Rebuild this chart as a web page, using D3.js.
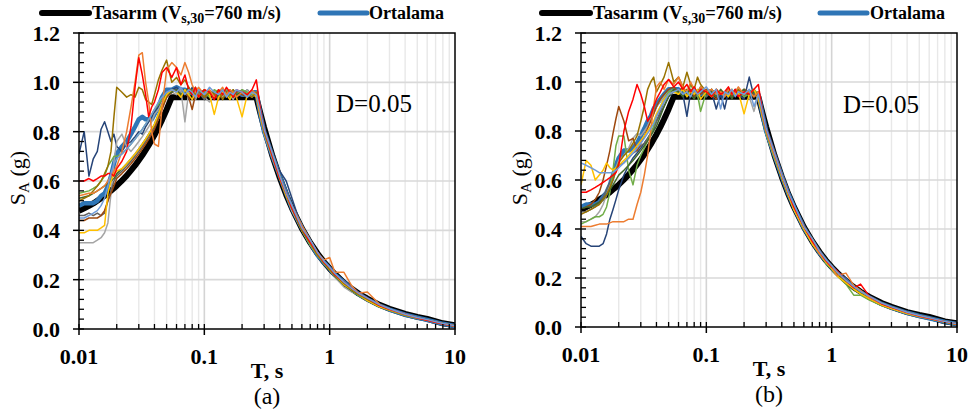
<!DOCTYPE html>
<html><head><meta charset="utf-8">
<script src="https://cdn.jsdelivr.net/npm/d3@7"></script>
<style>body{margin:0;background:#fff}svg{display:block}</style>
</head><body>
<svg id="c" width="976" height="419"></svg>
<script>
// ---------------- DATA ----------------
const periods = [0.01,0.011,0.012,0.013,0.014,0.015,0.016,0.017,0.018,0.019,
  0.02,0.022,0.024,0.026,0.028, 0.03,0.032,0.034,0.036,0.038, 0.04,0.043,0.046,0.05,0.055,
  0.06,0.065,0.07,0.075,0.08, 0.085,0.09,0.1,0.11,0.12, 0.13,0.14,0.15,0.16,0.17, 0.18,0.2,0.22,0.24,0.26,
  0.28,0.3,0.35,0.4,0.45, 0.5,0.6,0.7,0.8,0.9, 1.0,1.1,1.3,1.5,1.7, 2,2.5,3,4,5, 6,8,10];
const xTickLabels = ["0.01","0.1","1","10"];
const xTickValues = [0.01,0.1,1,10];
const yTickLabels = ["0.0","0.2","0.4","0.6","0.8","1.0","1.2"];
const yTickValues = [0,0.2,0.4,0.6,0.8,1.0,1.2];
const seriesNames = ["Tasarım (Vs,30=760 m/s)","Ortalama"];
const panelLabels = ["(a)","(b)"];
const dampingText = "D=0.05";

const design = [0.479,0.489,0.499,0.509,0.520,0.530,0.540,0.550,0.561,0.571,
  0.581,0.602,0.622,0.643,0.663, 0.684,0.704,0.725,0.745,0.766, 0.786,0.817,0.848,0.889,0.940,
  0.94,0.94,0.94,0.94,0.94, 0.94,0.94,0.94,0.94,0.94, 0.94,0.94,0.94,0.94,0.94, 0.94,0.94,0.94,0.94,0.94,
  0.875,0.817,0.700,0.613,0.544, 0.490,0.408,0.350,0.306,0.272, 0.245,0.223,0.188,0.163,0.144, 0.123,0.098,0.082,0.061,0.049, 0.041,0.023,0.015];

// Panel (a) records
const a_navy = [0.71,0.80,0.62,0.69,0.72,0.81,0.84,0.80,0.76,0.79, 0.74,0.72,0.75,0.76,0.78, 0.80,0.79,0.82,0.84,0.86, 0.88,0.90,0.93,0.95,0.97,
  0.98,0.96,0.97,0.95,0.98, 0.96,0.94,0.97,0.95,0.96, 0.93,0.97,0.95,0.96,0.94, 0.96,0.95,0.97,0.95,0.94,
  0.88,0.80,0.69,0.64,0.60, 0.53,0.41,0.35,0.30,0.27, 0.245,0.22,0.185,0.16,0.14, 0.12,0.095,0.08,0.058,0.046, 0.038,0.021,0.012];
const a_red = [0.60,0.60,0.61,0.60,0.61,0.62,0.62,0.63,0.63,0.62, 0.65,0.68,0.72,0.82,0.98, 1.10,1.03,0.95,0.86,0.90, 0.92,0.97,1.04,1.06,1.02,
  1.06,0.99,1.03,0.97,0.95, 0.98,0.94,0.97,0.96,0.93, 0.97,0.95,0.98,0.96,0.94, 0.97,0.96,0.95,0.97,1.01,
  0.89,0.81,0.70,0.61,0.55, 0.49,0.41,0.35,0.31,0.27, 0.25,0.22,0.19,0.165,0.145, 0.125,0.095,0.08,0.06,0.045, 0.035,0.02,0.012];
const a_olive = [0.52,0.53,0.54,0.56,0.58,0.60,0.63,0.66,0.72,0.86, 0.98,0.96,0.94,0.95,0.94, 0.98,0.97,0.93,0.92,0.91, 0.95,1.01,1.05,1.09,1.00,
  1.02,0.99,1.01,0.98,0.96, 0.95,0.97,0.94,0.96,0.95, 0.97,0.93,0.96,0.95,0.97, 0.94,0.96,0.95,0.94,0.96,
  0.88,0.80,0.70,0.62,0.55, 0.49,0.40,0.35,0.30,0.27, 0.24,0.22,0.185,0.16,0.14, 0.12,0.095,0.08,0.058,0.046, 0.037,0.021,0.013];
const a_orange = [0.54,0.545,0.55,0.55,0.56,0.57,0.58,0.60,0.62,0.64, 0.66,0.72,0.80,0.90,1.00, 1.11,1.12,1.00,0.92,0.80, 0.75,0.74,0.90,1.05,1.08,
  1.06,1.03,1.08,1.04,0.99, 0.96,0.98,0.95,0.97,0.94, 0.96,0.98,0.95,0.97,0.96, 0.94,0.96,0.95,0.97,0.95,
  0.87,0.81,0.71,0.62,0.55, 0.50,0.42,0.36,0.31,0.28, 0.29,0.23,0.23,0.175,0.145, 0.15,0.10,0.08,0.06,0.046, 0.036,0.021,0.012];
const a_gray = [0.35,0.35,0.35,0.35,0.36,0.37,0.39,0.43,0.55,0.68, 0.76,0.79,0.74,0.72,0.74, 0.76,0.78,0.80,0.82,0.84, 0.87,0.89,0.92,0.94,0.96,
  0.95,0.97,0.84,0.96,0.95, 0.93,0.96,0.94,0.92,0.95, 0.97,0.94,0.96,0.95,0.93, 0.96,0.95,0.97,0.94,0.96,
  0.86,0.79,0.69,0.61,0.54, 0.48,0.40,0.34,0.30,0.27, 0.24,0.21,0.17,0.15,0.14, 0.12,0.093,0.078,0.058,0.045, 0.036,0.021,0.012];
const a_dgray = [0.46,0.46,0.47,0.46,0.47,0.46,0.47,0.52,0.56,0.60, 0.62,0.64,0.66,0.68,0.70, 0.72,0.74,0.76,0.78,0.80, 0.82,0.86,0.90,0.94,0.96,
  0.97,0.95,0.96,0.94,0.97, 0.95,0.96,0.93,0.96,0.95, 0.94,0.97,0.95,0.96,0.94, 0.95,0.97,0.95,0.94,0.96,
  0.87,0.80,0.70,0.61,0.54, 0.49,0.41,0.35,0.31,0.27, 0.245,0.22,0.19,0.16,0.145, 0.12,0.096,0.08,0.06,0.047, 0.038,0.022,0.013];
const a_yellow = [0.39,0.39,0.40,0.40,0.40,0.41,0.42,0.55,0.60,0.63, 0.64,0.65,0.67,0.69,0.71, 0.73,0.75,0.77,0.79,0.81, 0.83,0.87,0.91,0.95,0.97,
  0.96,0.94,0.97,0.95,0.93, 0.96,0.94,0.97,0.95,0.87, 0.94,0.96,0.95,0.93,0.96, 0.94,0.86,0.95,0.96,0.94,
  0.86,0.80,0.70,0.61,0.54, 0.49,0.41,0.35,0.30,0.27, 0.24,0.22,0.18,0.16,0.14, 0.115,0.09,0.077,0.057,0.045, 0.036,0.021,0.012];
const a_brown = [0.44,0.44,0.45,0.45,0.45,0.46,0.48,0.52,0.55,0.58, 0.61,0.63,0.65,0.67,0.69, 0.71,0.73,0.75,0.77,0.79, 0.81,0.85,0.89,0.94,0.96,
  0.97,0.95,0.96,0.94,0.89, 0.95,0.97,0.94,0.96,0.95, 0.93,0.96,0.95,0.97,0.94, 0.96,0.95,0.94,0.96,0.95,
  0.87,0.80,0.70,0.62,0.55, 0.49,0.41,0.35,0.31,0.27, 0.245,0.22,0.19,0.165,0.145, 0.12,0.096,0.08,0.059,0.046, 0.037,0.022,0.013];
const a_lblue = [0.45,0.45,0.46,0.47,0.48,0.50,0.53,0.58,0.63,0.67, 0.69,0.71,0.73,0.75,0.77, 0.79,0.81,0.83,0.85,0.87, 0.89,0.92,0.94,0.96,0.97,
  0.96,0.98,0.95,0.97,0.96, 0.94,0.97,0.95,0.98,0.96, 0.95,0.97,0.94,0.96,0.95, 0.97,0.96,0.94,0.96,0.95,
  0.88,0.81,0.71,0.62,0.55, 0.50,0.41,0.36,0.31,0.275, 0.25,0.225,0.19,0.165,0.145, 0.125,0.098,0.082,0.06,0.047, 0.038,0.022,0.013];
const a_green = [0.55,0.555,0.56,0.57,0.58,0.60,0.62,0.66,0.68,0.70, 0.70,0.71,0.73,0.75,0.77, 0.79,0.81,0.83,0.85,0.87, 0.89,0.91,0.93,0.95,0.97,
  0.96,0.95,0.97,0.95,0.96, 0.98,0.95,0.96,0.94,0.97, 0.96,0.95,0.97,0.94,0.96, 0.95,0.97,0.96,0.95,0.96,
  0.87,0.80,0.70,0.61,0.54, 0.49,0.40,0.34,0.30,0.265, 0.24,0.215,0.18,0.155,0.135, 0.115,0.09,0.076,0.056,0.044, 0.036,0.02,0.012];
const a_dgreen = [0.53,0.535,0.54,0.55,0.56,0.57,0.58,0.59,0.60,0.61, 0.63,0.65,0.67,0.69,0.71, 0.73,0.75,0.77,0.79,0.81, 0.83,0.87,0.91,0.95,0.96,
  0.97,0.95,0.96,0.98,0.95, 0.96,0.94,0.97,0.95,0.96, 0.94,0.97,0.96,0.95,0.97, 0.95,0.96,0.94,0.96,0.95,
  0.87,0.80,0.70,0.61,0.54, 0.49,0.40,0.35,0.30,0.27, 0.24,0.215,0.18,0.155,0.14, 0.115,0.09,0.077,0.057,0.045, 0.036,0.021,0.012];
const meanA = [0.50,0.51,0.51,0.51,0.52,0.54,0.55,0.58,0.62,0.67, 0.71,0.74,0.76,0.79,0.82, 0.85,0.86,0.85,0.85,0.85, 0.87,0.90,0.94,0.97,0.97,
  0.98,0.97,0.97,0.96,0.96, 0.96,0.96,0.96,0.96,0.95, 0.96,0.96,0.96,0.96,0.95, 0.96,0.95,0.95,0.96,0.96,
  0.87,0.80,0.70,0.62,0.55, 0.49,0.41,0.35,0.30,0.27, 0.245,0.22,0.19,0.162,0.142, 0.12,0.095,0.079,0.058,0.046, 0.037,0.021,0.012];

// Panel (b) records
const b_navy = [0.37,0.34,0.33,0.33,0.33,0.34,0.38,0.44,0.48,0.52, 0.56,0.62,0.66,0.69,0.71, 0.73,0.75,0.77,0.79,0.81, 0.84,0.87,0.90,0.94,0.96,
  0.97,0.95,0.86,0.96,0.98, 0.95,0.97,0.94,0.96,0.89, 0.95,0.89,0.96,0.94,0.97, 0.95,0.93,1.02,0.94,0.95,
  0.87,0.80,0.70,0.61,0.54, 0.49,0.41,0.35,0.30,0.27, 0.245,0.22,0.185,0.16,0.14, 0.12,0.095,0.08,0.059,0.046, 0.037,0.021,0.012];
const b_red = [0.55,0.55,0.56,0.57,0.58,0.59,0.60,0.61,0.62,0.63, 0.66,0.80,0.88,0.93,0.99, 0.95,0.90,0.84,0.86,0.90, 0.93,0.96,0.99,1.01,0.98,
  1.00,0.97,0.99,0.96,0.98, 0.95,0.97,0.96,0.94,0.97, 0.95,0.96,0.98,0.95,0.97, 0.94,0.96,0.95,0.97,0.99,
  0.88,0.81,0.71,0.62,0.55, 0.49,0.41,0.35,0.31,0.27, 0.245,0.23,0.19,0.16,0.175, 0.125,0.095,0.08,0.059,0.045, 0.036,0.021,0.012];
const b_orange = [0.41,0.41,0.41,0.415,0.42,0.42,0.42,0.425,0.43,0.43, 0.43,0.43,0.44,0.44,0.50, 0.55,0.62,0.70,0.80,0.90, 0.98,1.00,0.97,1.01,0.99,
  1.02,0.98,0.96,1.00,0.97, 0.95,0.98,0.96,0.97,0.95, 0.96,0.94,0.97,0.95,0.96, 0.98,0.95,0.96,0.94,0.96,
  0.87,0.80,0.70,0.62,0.55, 0.49,0.41,0.35,0.30,0.27, 0.245,0.21,0.22,0.17,0.15, 0.12,0.095,0.08,0.058,0.045, 0.036,0.021,0.012];
const b_green = [0.42,0.43,0.44,0.45,0.45,0.46,0.49,0.55,0.64,0.74, 0.78,0.78,0.64,0.58,0.66, 0.70,0.73,0.76,0.79,0.82, 0.86,0.90,0.93,0.96,0.97,
  0.95,0.97,0.94,0.99,0.96, 0.95,0.88,0.96,0.94,0.97, 0.95,0.96,0.94,0.97,0.95, 0.96,0.94,0.95,0.97,0.95,
  0.86,0.79,0.69,0.61,0.54, 0.48,0.40,0.34,0.30,0.26, 0.235,0.21,0.175,0.13,0.13, 0.11,0.088,0.074,0.055,0.043, 0.035,0.02,0.011];
const b_dgreen = [0.48,0.49,0.49,0.50,0.51,0.52,0.54,0.56,0.58,0.60, 0.62,0.64,0.66,0.68,0.70, 0.72,0.74,0.76,0.78,0.80, 0.82,0.86,0.90,0.94,0.97,
  0.96,0.94,0.97,0.95,0.93, 0.96,0.98,0.95,0.96,0.94, 0.97,0.95,0.96,0.93,0.96, 0.95,0.97,0.94,0.96,0.95,
  0.87,0.80,0.70,0.61,0.54, 0.49,0.40,0.35,0.30,0.27, 0.24,0.215,0.18,0.15,0.14, 0.115,0.09,0.076,0.057,0.045, 0.036,0.021,0.012];
const b_brown = [0.48,0.49,0.50,0.52,0.55,0.60,0.66,0.72,0.79,0.85, 0.90,0.84,0.76,0.77,0.72, 0.75,0.78,0.81,0.84,0.87, 0.90,0.93,0.95,0.97,0.98,
  0.96,0.98,0.95,0.97,0.94, 0.96,0.95,0.97,0.95,0.93, 0.96,0.95,0.97,0.94,0.96, 0.95,0.97,0.96,0.94,0.96,
  0.87,0.80,0.70,0.61,0.54, 0.49,0.41,0.35,0.30,0.27, 0.245,0.22,0.185,0.16,0.14, 0.12,0.095,0.079,0.058,0.046, 0.037,0.021,0.012];
const b_yellow = [0.58,0.68,0.66,0.60,0.62,0.64,0.67,0.65,0.64,0.65, 0.66,0.68,0.70,0.72,0.74, 0.76,0.78,0.80,0.82,0.84, 0.87,0.90,0.93,0.95,0.96,
  0.95,0.97,0.94,0.96,0.95, 0.97,0.93,0.96,0.94,0.97, 0.95,0.96,0.94,0.97,0.95, 0.96,0.87,0.95,0.97,0.93,
  0.86,0.80,0.70,0.61,0.54, 0.48,0.40,0.34,0.30,0.265, 0.24,0.21,0.18,0.155,0.135, 0.115,0.09,0.075,0.055,0.043, 0.035,0.02,0.011];
const b_lblue = [0.67,0.66,0.65,0.64,0.63,0.63,0.63,0.63,0.63,0.64, 0.65,0.67,0.69,0.71,0.73, 0.75,0.77,0.79,0.81,0.83, 0.86,0.89,0.92,0.95,0.96,
  0.97,0.95,0.96,0.94,0.97, 0.95,0.96,0.98,0.95,0.97, 0.89,0.96,0.95,0.97,0.94, 0.96,0.95,0.97,0.90,0.95,
  0.88,0.81,0.71,0.62,0.55, 0.50,0.41,0.36,0.31,0.275, 0.25,0.225,0.19,0.165,0.145, 0.125,0.098,0.082,0.06,0.047, 0.038,0.022,0.013];
const b_gray = [0.43,0.43,0.44,0.45,0.47,0.50,0.54,0.58,0.62,0.65, 0.68,0.70,0.73,0.77,0.79, 0.78,0.80,0.82,0.85,0.87, 0.90,0.92,0.94,0.96,0.97,
  0.96,0.98,0.95,0.97,0.96, 0.94,0.96,0.95,0.97,0.94, 0.96,0.95,0.97,0.94,0.96, 0.95,0.97,0.94,0.88,0.95,
  0.86,0.79,0.69,0.61,0.54, 0.48,0.40,0.35,0.30,0.27, 0.24,0.215,0.18,0.155,0.14, 0.115,0.09,0.077,0.057,0.045, 0.036,0.021,0.012];
const b_olive = [0.46,0.47,0.48,0.49,0.50,0.52,0.54,0.57,0.60,0.64, 0.67,0.70,0.72,0.75,0.78, 0.84,0.90,0.97,1.00,1.02, 0.96,0.99,1.02,1.08,1.00,
  1.02,0.98,1.04,0.99,0.97, 1.02,0.99,0.96,0.97,0.95, 0.96,0.94,0.97,0.95,0.96, 0.97,0.95,0.96,0.94,0.95,
  0.87,0.80,0.71,0.62,0.55, 0.49,0.41,0.36,0.31,0.275, 0.25,0.22,0.19,0.165,0.145, 0.125,0.098,0.082,0.06,0.047, 0.038,0.022,0.013];
const b_dgray = [0.47,0.47,0.48,0.49,0.51,0.53,0.56,0.59,0.62,0.64, 0.66,0.67,0.69,0.71,0.72, 0.74,0.75,0.77,0.79,0.81, 0.84,0.88,0.92,0.95,0.97,
  0.95,0.97,0.96,0.94,0.97, 0.95,0.96,0.94,0.97,0.95, 0.96,0.94,0.97,0.96,0.95, 0.97,0.94,0.96,0.95,0.96,
  0.87,0.80,0.70,0.62,0.55, 0.49,0.41,0.35,0.31,0.27, 0.245,0.22,0.185,0.16,0.14, 0.12,0.095,0.08,0.059,0.046, 0.037,0.021,0.012];
const meanB = [0.49,0.50,0.50,0.50,0.51,0.53,0.55,0.58,0.62,0.66, 0.69,0.72,0.72,0.73,0.75, 0.78,0.81,0.84,0.86,0.89, 0.91,0.93,0.95,0.97,0.97,
  0.97,0.96,0.96,0.96,0.96, 0.96,0.95,0.96,0.96,0.95, 0.95,0.95,0.96,0.95,0.96, 0.96,0.95,0.96,0.95,0.95,
  0.87,0.80,0.70,0.615,0.545, 0.49,0.405,0.35,0.303,0.27, 0.243,0.22,0.19,0.16,0.142, 0.12,0.094,0.079,0.058,0.045, 0.036,0.021,0.012];

// ---------------- STYLE ----------------
const recordsA = [a_navy,a_gray,a_dgray,a_brown,a_green,a_dgreen,a_yellow,a_olive,a_orange,a_red,a_lblue];
const recordsB = [b_navy,b_gray,b_dgray,b_brown,b_green,b_dgreen,b_yellow,b_olive,b_orange,b_red,b_lblue];
const recordColors = ["#264478","#A5A5A5","#636363","#9E480E","#70AD47","#43682B","#FFC000","#997300","#ED7D31","#FF0000","#6F9BD8"];
const designColor = "#000000", meanColor = "#2E75B6";

[design,meanA,meanB,...recordsA,...recordsB].forEach((s,i)=>{ if(s.length!==periods.length) throw new Error("len mismatch series "+i+": "+s.length); });

const svg = d3.select("#c");
const serif = "'Liberation Serif','Times New Roman',serif";

const panels = [
  {x0:79, x1:455, top:33, bottom:329, records:recordsA, mean:meanA, label:panelLabels[0],
   leg:{bl0:42,bl1:89,bt:92,ul0:320,ul1:367,ut:369}, yLab:25, dX:336, dY:112},
  {x0:581, x1:957, top:33, bottom:327, records:recordsB, mean:meanB, label:panelLabels[1],
   leg:{bl0:542,bl1:590,bt:593,ul0:820,ul1:867,ut:870}, yLab:527, dX:843, dY:113}
];

panels.forEach((p,pi)=>{
  const x = d3.scaleLog().domain([0.01,10]).range([p.x0,p.x1]);
  const y = d3.scaleLinear().domain([0,1.2]).range([p.bottom,p.top]);
  const g = svg.append("g");

  const allX = x.ticks();
  g.selectAll(".vgm").data(allX.filter(t=>!xTickValues.some(v=>Math.abs(v-t)<1e-9)))
    .enter().append("line").attr("x1",d=>x(d)).attr("x2",d=>x(d)).attr("y1",p.top).attr("y2",p.bottom)
    .attr("stroke","#e8e8e8").attr("stroke-width",1.4);
  g.selectAll(".vgM").data(xTickValues.slice(1,-1)).enter().append("line")
    .attr("x1",d=>x(d)).attr("x2",d=>x(d)).attr("y1",p.top).attr("y2",p.bottom)
    .attr("stroke","#d4d4d4").attr("stroke-width",1.6);
  g.selectAll(".hg").data(yTickValues.slice(1,-1)).enter().append("line")
    .attr("x1",p.x0).attr("x2",p.x1).attr("y1",d=>y(d)).attr("y2",d=>y(d))
    .attr("stroke","#d9d9d9").attr("stroke-width",1.6);

  const clipId = "clip"+pi;
  svg.append("clipPath").attr("id",clipId).append("rect")
    .attr("x",p.x0).attr("y",p.top-2).attr("width",p.x1-p.x0).attr("height",p.bottom-p.top+2);
  const lines = g.append("g").attr("clip-path","url(#"+clipId+")");
  const line = d3.line().x((d,i)=>x(periods[i])).y(d=>y(d));

  lines.append("path").attr("d",line(design)).attr("fill","none").attr("stroke",designColor)
    .attr("stroke-width",6).attr("stroke-linejoin","round");
  lines.append("path").attr("d",line(p.mean)).attr("fill","none").attr("stroke",meanColor)
    .attr("stroke-width",4.5).attr("stroke-linejoin","round");
  p.records.forEach((r,i)=>{
    lines.append("path").attr("d",line(r)).attr("fill","none").attr("stroke",recordColors[i])
      .attr("stroke-width",1.5).attr("stroke-linejoin","round");
  });

  g.append("rect").attr("x",p.x0).attr("y",p.top).attr("width",p.x1-p.x0).attr("height",p.bottom-p.top)
    .attr("fill","none").attr("stroke","#000").attr("stroke-width",1.5);

  g.selectAll(".xmin").data(allX).enter().append("line")
    .attr("x1",d=>x(d)).attr("x2",d=>x(d)).attr("y1",p.bottom).attr("y2",p.bottom-5)
    .attr("stroke","#000").attr("stroke-width",1.3);
  g.selectAll(".xmaj").data(xTickValues).enter().append("line")
    .attr("x1",d=>x(d)).attr("x2",d=>x(d)).attr("y1",p.bottom).attr("y2",p.bottom+6)
    .attr("stroke","#000").attr("stroke-width",1.5);
  g.selectAll(".xl").data(xTickValues).enter().append("text")
    .attr("x",d=>x(d)).attr("y",p.bottom+35).attr("text-anchor","middle")
    .attr("font-family",serif).attr("font-weight","bold").attr("font-size",22)
    .text((d,i)=>xTickLabels[i]);

  const yMinor = d3.range(0,1.2001,0.04);
  g.selectAll(".ymin").data(yMinor).enter().append("line")
    .attr("x1",p.x0).attr("x2",p.x0+5).attr("y1",d=>y(d)).attr("y2",d=>y(d))
    .attr("stroke","#000").attr("stroke-width",1.3);
  g.selectAll(".ymaj").data(yTickValues).enter().append("line")
    .attr("x1",p.x0-6).attr("x2",p.x0).attr("y1",d=>y(d)).attr("y2",d=>y(d))
    .attr("stroke","#000").attr("stroke-width",1.5);
  g.selectAll(".yl").data(yTickValues).enter().append("text")
    .attr("x",p.x0-19).attr("y",d=>y(d)+8).attr("text-anchor","end")
    .attr("font-family",serif).attr("font-weight","bold").attr("font-size",22)
    .text((d,i)=>yTickLabels[i]);

  g.append("text").attr("x",(p.x0+p.x1)/2).attr("y",p.bottom+49).attr("text-anchor","middle")
    .attr("font-family",serif).attr("font-weight","bold").attr("font-size",22).text("T, s");
  g.append("text").attr("x",(p.x0+p.x1)/2).attr("y",p.bottom+75).attr("text-anchor","middle")
    .attr("font-family",serif).attr("font-size",24).text(p.label);
  const yt = g.append("text").attr("transform","translate("+p.yLab+",178) rotate(-90)")
    .attr("text-anchor","middle").attr("font-family",serif).attr("font-size",22);
  yt.append("tspan").text("S");
  yt.append("tspan").attr("dy",4).attr("font-size",15).text("A");
  yt.append("tspan").attr("dy",-4).text(" (g)");

  g.append("text").attr("x",p.dX).attr("y",p.dY).attr("font-family",serif).attr("font-size",25).text(dampingText);

  const L = p.leg;
  g.append("line").attr("x1",L.bl0).attr("x2",L.bl1).attr("y1",13).attr("y2",13)
    .attr("stroke",designColor).attr("stroke-width",6).attr("stroke-linecap","round");
  const lt = g.append("text").attr("x",L.bt).attr("y",19).attr("font-family",serif).attr("font-weight","bold").attr("font-size",18.5);
  lt.append("tspan").text("Tasarım (V");
  lt.append("tspan").attr("dy",4).attr("font-size",14).text("s,30");
  lt.append("tspan").attr("dy",-4).text("=760 m/s)");
  g.append("line").attr("x1",L.ul0).attr("x2",L.ul1).attr("y1",13).attr("y2",13)
    .attr("stroke",meanColor).attr("stroke-width",5).attr("stroke-linecap","round");
  g.append("text").attr("x",L.ut).attr("y",19).attr("font-family",serif).attr("font-weight","bold").attr("font-size",18)
    .text(seriesNames[1]);
});
</script>
</body></html>
